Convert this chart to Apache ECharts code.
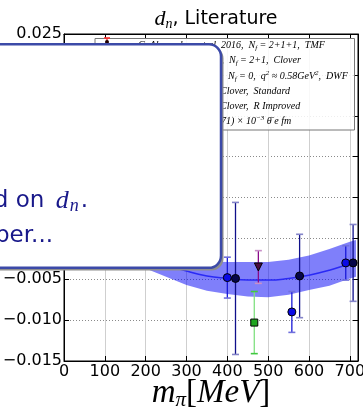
<!DOCTYPE html>
<html>
<head>
<meta charset="utf-8">
<script src="https://cdn.jsdelivr.net/npm/echarts@6/dist/echarts.min.js"></script>
<style>
html,body{margin:0;padding:0;background:#fff;}
#c{width:363px;height:410px;}
</style>
</head>
<body>
<div id="c"></div>
<script>
// ---- data ----
const xTicks = [0, 100, 200, 300, 400, 500, 600, 700];
const yTicks = [-0.015, -0.010, -0.005, 0.000, 0.005, 0.010, 0.015, 0.020, 0.025];

// Clover, Standard (blue circles)
const stdX   = [400, 558, 690];
const stdY   = [-0.0048, -0.0090, -0.0030];
const stdErr = [0.0025, 0.0025, 0.0021];

// Clover, R Improved (navy circles)
const impX   = [420, 577, 708];
const impY   = [-0.0049, -0.0046, -0.0030];
const impErr = [0.0093, 0.0051, 0.0047];

// N_f = 0, DWF (purple down-triangle)
const dwfX   = [476];
const dwfY   = [-0.0035];
const dwfErr = [0.0020];

// N_f = 2+1, Clover (green square)
const clvX   = [466];
const clvY   = [-0.0103];
const clvErr = [0.0038];

// fit curve and band
const bandX     = [150, 200, 250, 300, 350, 400, 450, 500, 550, 600, 650, 700, 715];
const bandMid   = [-0.0011, -0.0023, -0.0032, -0.0040, -0.0046, -0.0049, -0.0051, -0.0051, -0.0049, -0.0045, -0.0039, -0.0031, -0.0029];
const bandLower = [-0.0025, -0.0037, -0.0047, -0.0057, -0.0064, -0.0068, -0.0071, -0.0072, -0.0069, -0.0063, -0.0058, -0.0049, -0.0047];
const bandUpper = [0.0003, -0.0009, -0.0017, -0.0024, -0.0028, -0.0029, -0.0029, -0.0029, -0.0026, -0.0021, -0.0013, -0.0004, -0.0002];

// legend text (left parts hidden behind the overlay box)
const legendPrefix = [
  "C. Alexandrou et al. ",
  "Guo et al. 2015,  ",
  "Shintani et al. 2005,  ",
  "This work,  ",
  "This work,  ",
  "d = \u22120.0xx(0."
];
const legendRich = [
  "{t|2016,  }{t|N}{s|f}{t| = 2+1+1,  TMF}",
  "{t|N}{s|f}{t| = 2+1,  Clover}",
  "{t|N}{s|f}{t| = 0,  q}{p|2}{t| \u2248 0.58GeV}{p|2}{t|,  DWF}",
  "{t|Clover,  Standard}",
  "{t|Clover,  R Improved}",
  "{t|71) \u00d7 10}{p|\u22123}{t| \u03b8\u0304 e fm}"
];

const chart = echarts.init(document.getElementById('c'), null, {renderer: 'canvas'});

function errRender(barColor, capColor) {
  return function (params, api) {
    const x = api.value(0), y = api.value(1), e = api.value(2);
    const top = api.coord([x, y + e]);
    const bot = api.coord([x, y - e]);
    const w = 3.5;
    return {
      type: 'group',
      children: [
        {type: 'line', shape: {x1: top[0], y1: top[1], x2: bot[0], y2: bot[1]}, style: {stroke: barColor, lineWidth: 1.3}},
        {type: 'line', shape: {x1: top[0] - w, y1: top[1], x2: top[0] + w, y2: top[1]}, style: {stroke: capColor, lineWidth: 1.6}},
        {type: 'line', shape: {x1: bot[0] - w, y1: bot[1], x2: bot[0] + w, y2: bot[1]}, style: {stroke: capColor, lineWidth: 1.6}}
      ]
    };
  };
}
function triples(xs, ys, es) { return xs.map((x, i) => [x, ys[i], es[i]]); }
function pairs(xs, ys) { return xs.map((x, i) => [x, ys[i]]); }

const legendEls = [];
const rowY = [45, 60.5, 76, 91, 106, 121.5];
const legendFont = 'italic 10px "Liberation Serif", serif';
const richStyles = {
  t: {font: legendFont, fill: '#000'},
  s: {font: 'italic 7px "Liberation Serif", serif', fill: '#000', padding: [6, 0, 0, 0]},
  p: {font: 'italic 7px "Liberation Serif", serif', fill: '#000', padding: [0, 0, 6, 0]}
};
legendEls.push({
  type: 'rect', z: 50,
  shape: {x: 95, y: 38.5, width: 259.5, height: 91.5},
  style: {fill: 'rgba(255,255,255,0.85)', stroke: '#777', lineWidth: 1}
});
// red legend marker (TMF)
legendEls.push({type: 'line', z: 51, shape: {x1: 107, y1: 38, x2: 107, y2: 48}, style: {stroke: '#e02020', lineWidth: 1.3}});
legendEls.push({type: 'line', z: 51, shape: {x1: 104, y1: 38, x2: 110, y2: 38}, style: {stroke: '#ff3030', lineWidth: 1.6}});
legendEls.push({type: 'circle', z: 52, shape: {cx: 107, cy: 42, r: 2}, style: {fill: '#200000'}});
const startX = [221, 229, 228, 220, 220, 221];
for (let i = 0; i < rowY.length; i++) {
  legendEls.push({
    type: 'text', z: 51,
    style: {text: legendPrefix[i], x: startX[i], y: rowY[i], font: legendFont, fill: '#000', align: 'right', verticalAlign: 'middle'}
  });
  legendEls.push({
    type: 'text', z: 51,
    style: {text: legendRich[i], x: startX[i], y: rowY[i], align: 'left', verticalAlign: 'middle', rich: richStyles}
  });
}

const boxEls = [
  {type: 'rect', z: 100, shape: {x: -20, y: 46.5, width: 243.5, height: 224, r: 12}, style: {fill: '#8e8e8e'}},
  {type: 'rect', z: 101, shape: {x: -20, y: 44.3, width: 241, height: 223.5, r: 12}, style: {fill: '#ffffff', stroke: '#3c4aa8', lineWidth: 2.5}},
  {type: 'text', z: 102, style: {
    text: '{a|Cut based on }{i|d}{s|n}{a|.}', x: 88, y: 201, align: 'right', verticalAlign: 'middle',
    rich: {
      a: {font: '23px "DejaVu Sans", sans-serif', fill: '#18188a'},
      i: {font: 'italic 26px "Liberation Serif", serif', fill: '#18188a', padding: [0, 1, 0, 4]},
      s: {font: 'italic 18px "Liberation Serif", serif', fill: '#18188a', padding: [11, 2, 0, 0]}
    }
  }},
  {type: 'text', z: 102, style: {
    text: 'See the paper...', x: 53, y: 236, align: 'right', verticalAlign: 'middle',
    font: '23px "DejaVu Sans", sans-serif', fill: '#18188a'
  }}
];

const option = {
  animation: false,
  backgroundColor: '#fff',
  title: {
    text: '{i|d}{s|n}{t|, Literature}',
    left: 211, top: 2, textAlign: 'center',
    textStyle: {
      fontWeight: 'normal',
      rich: {
        i: {fontFamily: 'Liberation Serif', fontStyle: 'italic', fontWeight: 'normal', fontSize: 22, color: '#000'},
        s: {fontFamily: 'Liberation Serif', fontStyle: 'italic', fontWeight: 'normal', fontSize: 14, color: '#000', padding: [10, 0, 0, 0]},
        t: {fontFamily: 'DejaVu Sans', fontWeight: 'normal', fontSize: 19, color: '#000'}
      }
    }
  },
  grid: {left: 64, right: 5, top: 34, bottom: 49, show: true, borderColor: '#000', borderWidth: 1,
         backgroundColor: 'transparent', containLabel: false, outerBoundsMode: 'none'},
  xAxis: [{
    type: 'value', min: 0, max: 720, interval: 100, position: 'bottom',
    axisLine: {show: true, onZero: false, lineStyle: {color: '#000', width: 1}},
    axisTick: {show: true, inside: true, length: 5, lineStyle: {color: '#000'}},
    axisLabel: {
      color: '#000', fontFamily: 'DejaVu Sans', fontSize: 16, margin: 3,
      formatter: v => (xTicks.indexOf(Math.round(v)) >= 0 && Math.abs(v - Math.round(v)) < 1e-6 ? String(Math.round(v)) : '')
    },
    splitLine: {show: true, lineStyle: {color: '#cfcfcf', width: 1, type: 'solid'}},
    name: '{i|m}{s|\u03c0}{n|[}{i|MeV}{n|]}',
    nameLocation: 'middle', nameGap: 15, nameMoveOverlap: false,
    nameTextStyle: {
      verticalAlign: 'top',
      rich: {
        i: {fontFamily: 'Liberation Serif', fontStyle: 'italic', fontSize: 33, color: '#000'},
        s: {fontFamily: 'Liberation Serif', fontStyle: 'italic', fontSize: 21, color: '#000', padding: [14, 0, 0, 0]},
        n: {fontFamily: 'Liberation Serif', fontSize: 33, color: '#000'}
      }
    }
  }, {
    type: 'value', min: 0, max: 720, interval: 100, position: 'top',
    axisLine: {show: true, onZero: false, lineStyle: {color: '#000', width: 1}},
    axisTick: {show: true, inside: true, length: 5, lineStyle: {color: '#000'}},
    axisLabel: {show: false}, splitLine: {show: false}
  }],
  yAxis: [{
    type: 'value', min: -0.015, max: 0.025, interval: 0.005, position: 'left',
    axisLine: {show: true, onZero: false, lineStyle: {color: '#000', width: 1}},
    axisTick: {show: true, inside: true, length: 5, lineStyle: {color: '#000'}},
    axisLabel: {
      color: '#000', fontFamily: 'DejaVu Sans', fontSize: 16, margin: 2,
      formatter: v => {
        const r = Math.round(v * 1000) / 1000;
        const s = Math.abs(r) < 1e-9 ? '0.000' : r.toFixed(3);
        return s.replace('-', '\u2212');
      }
    },
    splitLine: {show: true, lineStyle: {color: '#8a8a8a', width: 1, type: [1, 2]}}
  }, {
    type: 'value', min: -0.015, max: 0.025, interval: 0.005, position: 'right',
    axisLine: {show: true, onZero: false, lineStyle: {color: '#000', width: 1}},
    axisTick: {show: true, inside: true, length: 5, lineStyle: {color: '#000'}},
    axisLabel: {show: false}, splitLine: {show: false}
  }],
  series: [
    {
      type: 'custom', name: 'band', z: 3,
      data: bandX.map((x, i) => [x, bandLower[i], bandUpper[i]]),
      encode: {x: 0, y: [1, 2]},
      renderItem: function (params, api) {
        if (params.dataIndex !== 0) return null;
        const pts = [];
        for (let i = 0; i < bandX.length; i++) pts.push(api.coord([bandX[i], bandUpper[i]]));
        for (let i = bandX.length - 1; i >= 0; i--) pts.push(api.coord([bandX[i], bandLower[i]]));
        return {type: 'polygon', shape: {points: pts}, style: {fill: 'rgba(10,10,245,0.52)'}};
      }
    },
    {
      type: 'line', name: 'fit', z: 4, smooth: true, showSymbol: false,
      data: pairs(bandX, bandMid),
      lineStyle: {color: '#2a2af5', width: 1.5}
    },
    {type: 'custom', name: 'std-err', z: 5, data: triples(stdX, stdY, stdErr), encode: {x: 0, y: 1}, renderItem: errRender('#1a1ad8', '#7070dc')},
    {type: 'custom', name: 'imp-err', z: 5, data: triples(impX, impY, impErr), encode: {x: 0, y: 1}, renderItem: errRender('#10108a', '#8484c8')},
    {type: 'custom', name: 'dwf-err', z: 5, data: triples(dwfX, dwfY, dwfErr), encode: {x: 0, y: 1}, renderItem: errRender('#8a0a8a', '#c890c8')},
    {type: 'custom', name: 'clv-err', z: 5, data: triples(clvX, clvY, clvErr), encode: {x: 0, y: 1}, renderItem: errRender('#80e080', '#40c840')},
    {type: 'scatter', name: 'Clover, Standard', z: 6, symbol: 'circle', symbolSize: 8, data: pairs(stdX, stdY),
      itemStyle: {color: '#0a0ae6', borderColor: '#000', borderWidth: 1, opacity: 1}},
    {type: 'scatter', name: 'Clover, R Improved', z: 6, symbol: 'circle', symbolSize: 8, data: pairs(impX, impY),
      itemStyle: {color: '#06064a', borderColor: '#000', borderWidth: 1, opacity: 1}},
    {type: 'scatter', name: 'DWF', z: 6, symbol: 'triangle', symbolRotate: 180, symbolSize: 8, data: pairs(dwfX, dwfY),
      itemStyle: {color: '#4a0a40', borderColor: '#000', borderWidth: 1, opacity: 1}},
    {type: 'scatter', name: 'Clover Nf=2+1', z: 6, symbol: 'rect', symbolSize: 7, data: pairs(clvX, clvY),
      itemStyle: {color: '#1fa51f', borderColor: '#000', borderWidth: 1, opacity: 1}}
  ],
  graphic: {elements: legendEls.concat(boxEls)}
};
chart.setOption(option);
</script>
</body>
</html>
